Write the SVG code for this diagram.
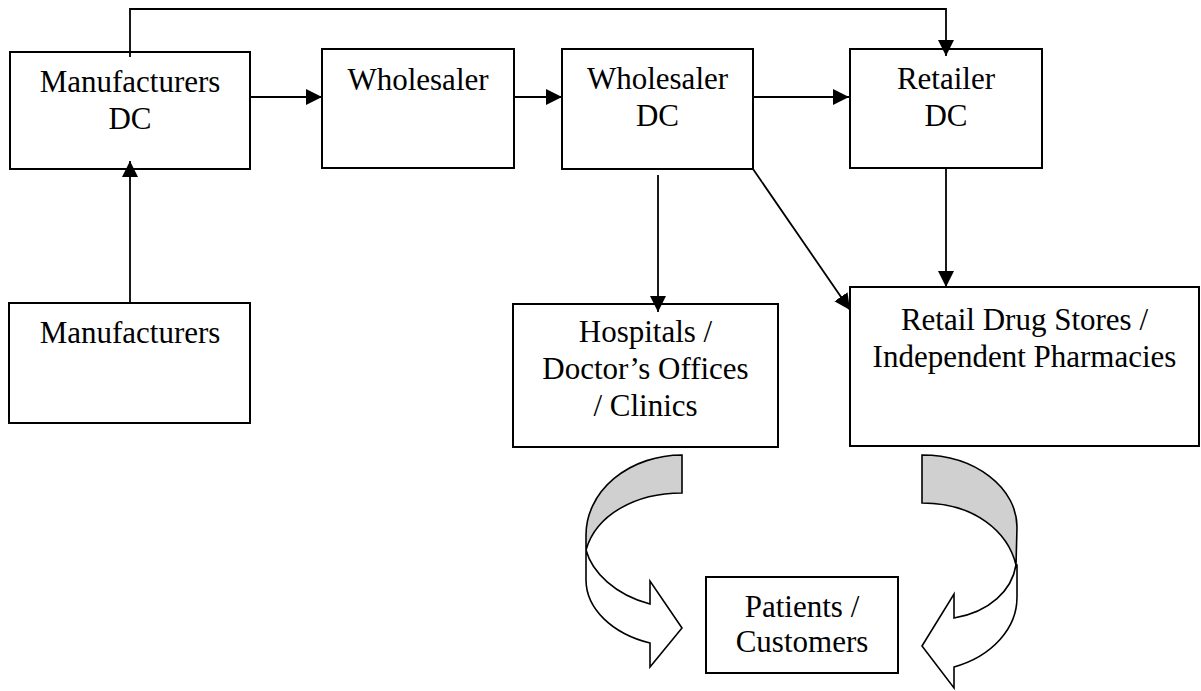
<svg xmlns="http://www.w3.org/2000/svg" width="1201" height="691" viewBox="0 0 1201 691">
<style>
.box{fill:#fff;stroke:#000;stroke-width:2}
.lbl{font-family:"Liberation Serif","Times New Roman",serif;font-size:31px;fill:#000;text-anchor:middle}
.con{fill:none;stroke:#000;stroke-width:1.8}
.back{fill:#d0d0d0;stroke:#000;stroke-width:1.6;stroke-linejoin:miter}
.front{fill:#fff;stroke:#000;stroke-width:1.6;stroke-linejoin:miter}
</style>
<defs>
<marker id="ah" markerUnits="userSpaceOnUse" markerWidth="16" markerHeight="16" refX="16" refY="8" orient="auto">
<path d="M0,0 L16,8 L0,16 Z" fill="#000"/>
</marker>
</defs>
<rect width="1201" height="691" fill="#fff"/>

<g id="manufacturers-dc">
<rect class="box" x="10" y="52" width="240" height="117"/>
<text class="lbl" x="130" y="92">Manufacturers</text>
<text class="lbl" x="130" y="129">DC</text>
</g>
<g id="wholesaler">
<rect class="box" x="322" y="49" width="192" height="119"/>
<text class="lbl" x="418" y="90">Wholesaler</text>
</g>
<g id="wholesaler-dc">
<rect class="box" x="562" y="49" width="191" height="120"/>
<text class="lbl" x="657.5" y="89">Wholesaler</text>
<text class="lbl" x="657.5" y="126">DC</text>
</g>
<g id="retailer-dc">
<rect class="box" x="850" y="49" width="192" height="119"/>
<text class="lbl" x="946" y="89">Retailer</text>
<text class="lbl" x="946" y="126">DC</text>
</g>
<g id="manufacturers">
<rect class="box" x="9" y="303" width="241" height="120"/>
<text class="lbl" x="130" y="343">Manufacturers</text>
</g>
<g id="hospitals">
<rect class="box" x="513" y="304" width="265" height="143"/>
<text class="lbl" x="645.5" y="342">Hospitals /</text>
<text class="lbl" x="645.5" y="379">Doctor’s Offices</text>
<text class="lbl" x="645.5" y="416">/ Clinics</text>
</g>
<g id="retail-drug-stores">
<rect class="box" x="850" y="287" width="349" height="159"/>
<text class="lbl" x="1024.5" y="330">Retail Drug Stores /</text>
<text class="lbl" x="1024.5" y="367">Independent Pharmacies</text>
</g>
<g id="patients">
<rect class="box" x="706" y="577" width="192" height="96"/>
<text class="lbl" x="802" y="617">Patients /</text>
<text class="lbl" x="802" y="652">Customers</text>
</g>

<g id="connectors">
<path class="con" d="M130,57 V9 H946 V56" marker-end="url(#ah)"/>
<path class="con" d="M130,303 V161" marker-end="url(#ah)"/>
<path class="con" d="M250,97 H322" marker-end="url(#ah)"/>
<path class="con" d="M514,97 H562" marker-end="url(#ah)"/>
<path class="con" d="M753,97 H849" marker-end="url(#ah)"/>
<path class="con" d="M658,175 V312" marker-end="url(#ah)"/>
<path class="con" d="M753,169 L850,310" marker-end="url(#ah)"/>
<path class="con" d="M946,168 V287" marker-end="url(#ah)"/>
</g>

<g id="curved-arrow-left">
<path class="back" d="M682,455 A96,80 0 0 0 586,535 L586,550 C596,515 635,493 682,493 Z"/>
<path class="front" d="M586,550 C592,572 615,595 650,604 L650,581 L682,628 L650,667 L650,643 A96,67 0 0 1 586,580 Z"/>
</g>
<g id="curved-arrow-right">
<path class="back" d="M922,455 A95,72 0 0 1 1017,527 L1016,565 C1008,532 975,503 922,503 Z"/>
<path class="front" d="M1016,565 C1012,590 990,612 954,618 L954,594 L922,646 L954,688 L954,667 A95,74 0 0 0 1017,597 L1017,565 Z"/>
</g>
</svg>
